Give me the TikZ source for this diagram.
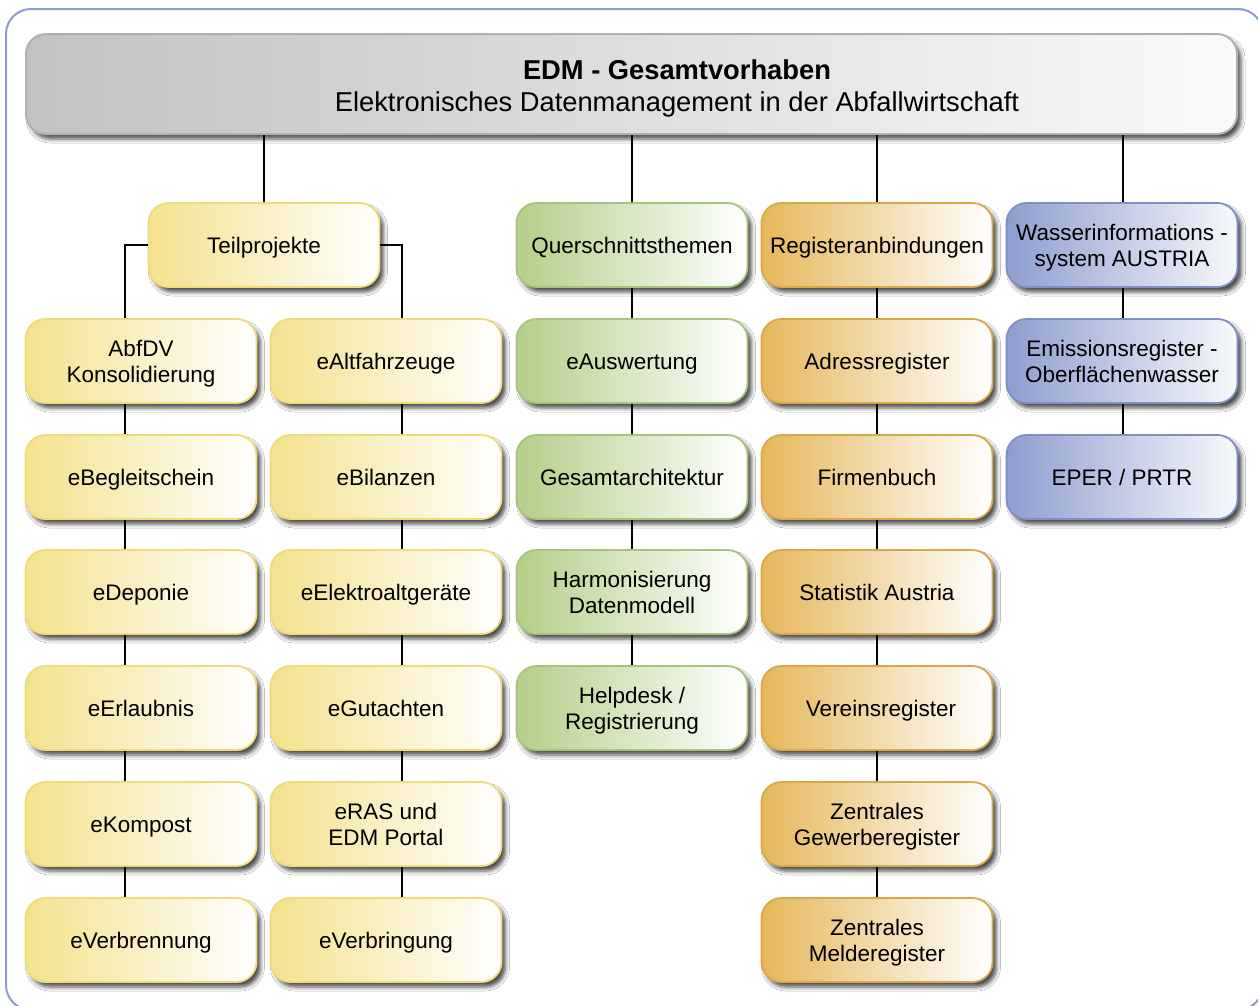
\documentclass[tikz,border=0pt]{standalone}
\usepackage{fontspec}
\setmainfont{Liberation Sans}
\usetikzlibrary{shadows.blur}
\definecolor{yelL}{HTML}{F3E28D}
\definecolor{yelB}{HTML}{F0DA7A}
\definecolor{grnL}{HTML}{B4CF89}
\definecolor{grnB}{HTML}{A6C47E}
\definecolor{orgL}{HTML}{E5B75A}
\definecolor{orgB}{HTML}{D9A84A}
\definecolor{bluL}{HTML}{8E9DCF}
\definecolor{bluB}{HTML}{7F8FC6}
\definecolor{frameC}{HTML}{8C9CD2}
\definecolor{grayL}{HTML}{C2C2C2}
\definecolor{grayB}{HTML}{B0B0B0}
\newcommand\firstline{\rule{0pt}{21pt}}
\tikzset{
  box/.style={rounded corners=20pt, minimum width=231pt, minimum height=84pt,
    align=center, font=\fontsize{22.5}{26}\selectfont, line width=1.8pt,
    execute at begin node={\rule{0pt}{21pt}},
    execute at end node={\rule[-4.6pt]{0pt}{4.6pt}},
    blur shadow={shadow xshift=4pt, shadow yshift=-5pt, shadow blur radius=4pt, shadow opacity=70}},
  ybox/.style={box, draw=yelB, left color=yelL, right color=white},
  gbox/.style={box, draw=grnB, left color=grnL, right color=white},
  obox/.style={box, draw=orgB, left color=orgL, right color=white},
  bbox/.style={box, draw=bluB, left color=bluL, right color=white!94!bluL},
  conn/.style={line width=2.2pt, black},
}
\begin{document}
\begin{tikzpicture}[x=1pt,y=-1pt]
\useasboundingbox (0,0) rectangle (1258,1005);
\fill[white] (0,0) rectangle (1258,1005);
\draw[frameC, line width=2pt, rounded corners=25pt] (6,9) rectangle (1263,1010);

% title bar
\node[rounded corners=20pt, minimum width=1211pt, minimum height=100pt, draw=grayB, line width=2pt,
  left color=grayL, right color=white!98!black,
  blur shadow={shadow xshift=4pt, shadow yshift=-5pt, shadow blur radius=4pt, shadow opacity=70}]
  (top) at (631.5,84) {};
\node[align=center, font=\fontsize{27.3}{32}\selectfont] (toptxt) at (677,88)
  {\textbf{EDM - Gesamtvorhaben}\\Elektronisches Datenmanagement in der Abfallwirtschaft};

% row 0
\node[ybox] (tp) at (264,245) {Teilprojekte};
\node[gbox] (qs) at (632,245) {Querschnittsthemen};
\node[obox] (ra) at (877,245) {Registeranbindungen};
\node[bbox] (wa) at (1122,245) {\firstline Wasserinformations -\\system AUSTRIA};

% left column
\node[ybox] (abf) at (141,361) {\firstline AbfDV\\Konsolidierung};
\node[ybox] (beg) at (141,477) {eBegleitschein};
\node[ybox] (dep) at (141,592) {eDeponie};
\node[ybox] (erl) at (141,708) {eErlaubnis};
\node[ybox] (kom) at (141,824) {eKompost};
\node[ybox] (vbr) at (141,940) {eVerbrennung};

% second column
\node[ybox] (alt) at (386,361) {eAltfahrzeuge};
\node[ybox] (bil) at (386,477) {eBilanzen};
\node[ybox] (ela) at (386,592) {eElektroaltgeräte};
\node[ybox] (gut) at (386,708) {eGutachten};
\node[ybox] (ras) at (386,824) {\firstline eRAS und\\EDM Portal};
\node[ybox] (vbg) at (386,940) {eVerbringung};

% green column
\node[gbox] (aus) at (632,361) {eAuswertung};
\node[gbox] (ges) at (632,477) {Gesamtarchitektur};
\node[gbox] (har) at (632,592) {\firstline Harmonisierung\\Datenmodell};
\node[gbox] (hel) at (632,708) {\firstline Helpdesk /\\Registrierung};

% orange column
\node[obox] (adr) at (877,361) {Adressregister};
\node[obox] (fir) at (877,477) {Firmenbuch};
\node[obox] (sta) at (877,592) {Statistik Austria};
\node[obox] (ver) at (877,708) {\hspace*{8pt}Vereinsregister};
\node[obox] (zgw) at (877,824) {\firstline Zentrales\\Gewerberegister};
\node[obox] (zmr) at (877,940) {\firstline Zentrales\\Melderegister};

% blue column
\node[bbox] (emi) at (1122,361) {\firstline Emissionsregister -\\Oberflächenwasser};
\node[bbox] (epr) at (1122,477) {EPER / PRTR};

% connectors from title
\draw[conn] (top.south -| tp.north) -- (tp.north);
\draw[conn] (top.south -| qs.north) -- (qs.north);
\draw[conn] (top.south -| ra.north) -- (ra.north);
\draw[conn] ([xshift=1pt]top.south -| wa.north) -- ([xshift=1pt]wa.north);

% Teilprojekte branches
\draw[conn] (tp.west) -| ([xshift=-16pt]abf.north);
\draw[conn] (tp.east) -| ([xshift=16pt]alt.north);
\foreach \a/\b in {abf/beg,beg/dep,dep/erl,erl/kom,kom/vbr}
  \draw[conn] ([xshift=-16pt]\a.south) -- ([xshift=-16pt]\b.north);
\foreach \a/\b in {alt/bil,bil/ela,ela/gut,gut/ras,ras/vbg}
  \draw[conn] ([xshift=16pt]\a.south) -- ([xshift=16pt]\b.north);
\foreach \a/\b in {qs/aus,aus/ges,ges/har,har/hel,ra/adr,adr/fir,fir/sta,sta/ver,ver/zgw,zgw/zmr}
  \draw[conn] (\a.south) -- (\b.north);
\draw[conn] ([xshift=1pt]wa.south) -- ([xshift=1pt]emi.north);
\draw[conn] ([xshift=1pt]emi.south) -- ([xshift=1pt]epr.north);
\end{tikzpicture}
\end{document}
